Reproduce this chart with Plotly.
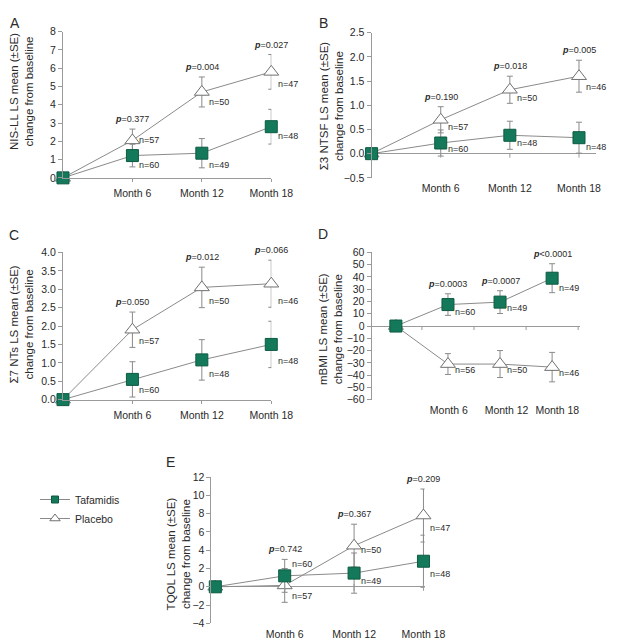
import plotly.graph_objects as go

W, H = 618, 640

months = [0, 6, 12, 18]
month_labels = ["Month 6", "Month 12", "Month 18"]

# A - NIS-LL
nisll_taf = [0, 1.22, 1.35, 2.8]
nisll_taf_se = [0, 0.62, 0.8, 0.95]
nisll_pla = [0, 2.05, 4.7, 5.8]
nisll_pla_se = [0, 0.62, 0.82, 0.95]
nisll_p = ["=0.377", "=0.004", "=0.027"]
nisll_n_taf = [60, 49, 48]
nisll_n_pla = [57, 50, 47]

# B - Sigma3 NTSF
ntsf_taf = [0, 0.22, 0.38, 0.33]
ntsf_taf_se = [0, 0.27, 0.29, 0.32]
ntsf_pla = [0, 0.7, 1.32, 1.6]
ntsf_pla_se = [0, 0.27, 0.28, 0.33]
ntsf_p = ["=0.190", "=0.018", "=0.005"]
ntsf_n_taf = [60, 48, 48]
ntsf_n_pla = [57, 50, 46]

# C - Sigma7 NTs
nts_taf = [0, 0.55, 1.08, 1.5]
nts_taf_se = [0, 0.48, 0.55, 0.63]
nts_pla = [0, 1.9, 3.05, 3.15]
nts_pla_se = [0, 0.48, 0.55, 0.64]
nts_p = ["=0.050", "=0.012", "=0.066"]
nts_n_taf = [60, 48, 48]
nts_n_pla = [57, 50, 46]

# D - mBMI
mbmi_taf = [0, 17.5, 19.5, 39]
mbmi_taf_se = [0, 8.8, 9.3, 11.8]
mbmi_pla = [0, -31, -31, -33.5]
mbmi_pla_se = [0, 8.5, 11, 12]
mbmi_p = ["=0.0003", "=0.0007", "&lt;0.0001"]
mbmi_n_taf = [60, 49, 49]
mbmi_n_pla = [56, 50, 46]

# E - TQOL
tqol_taf = [0, 1.2, 1.5, 2.8]
tqol_taf_se = [0, 1.8, 2.2, 2.85]
tqol_pla = [0, 0.15, 4.5, 7.8]
tqol_pla_se = [0, 1.85, 2.35, 2.9]
tqol_p = ["=0.742", "=0.367", "=0.209"]
tqol_n_taf = [60, 49, 48]
tqol_n_pla = [57, 50, 47]

GREEN = "#14795a"
GREY = "#8a8a8a"
AXIS = "#9a9a9a"
TXT = "#2a2a2a"
FONT = "Liberation Sans, Arial, sans-serif"


def fx(p):
    return p / W


def fy(p):
    return 1 - p / H


panels = [
    dict(letter="A", taf=nisll_taf, taf_se=nisll_taf_se, pla=nisll_pla, pla_se=nisll_pla_se,
         p=nisll_p, n_taf=nisll_n_taf, n_pla=nisll_n_pla,
         title="NIS-LL LS mean (±SE)<br>change from baseline",
         xd=(57, 273), yd=(18, 167), xr=[0, 18], yr=[0, 8], dtick=1, fmt="d",
         floor_axis=True, ticks0=None, label_at=months[1:], letter_xy=(7, 9), title_xy=(14, 79),
         dy_taf=[-9, -12, -9], dy_pla=[0, -10, -12]),
    dict(letter="B", taf=ntsf_taf, taf_se=ntsf_taf_se, pla=ntsf_pla, pla_se=ntsf_pla_se,
         p=ntsf_p, n_taf=ntsf_n_taf, n_pla=ntsf_n_pla,
         title="Σ3 NTSF LS mean (±SE)<br>change from baseline",
         xd=(377, 610), yd=(19, 167), xr=[0, 19.5], yr=[-0.5, 2.5], dtick=0.5, fmt=".1f",
         floor_axis=False, ticks0=[6, 12, 18], label_at=months[1:], letter_xy=(327, 9),
         title_xy=(335, 94), dy_taf=[-6, -8, -9], dy_pla=[-7, -8, -11]),
    dict(letter="C", taf=nts_taf, taf_se=nts_taf_se, pla=nts_pla, pla_se=nts_pla_se,
         p=nts_p, n_taf=nts_n_taf, n_pla=nts_n_pla,
         title="Σ7 NTs LS mean (±SE)<br>change from baseline",
         xd=(57, 273), yd=(243, 393), xr=[0, 18], yr=[0, 4], dtick=0.5, fmt=".1f",
         floor_axis=True, ticks0=None, label_at=months[1:], letter_xy=(6, 225), title_xy=(14, 317),
         dy_taf=[-11, -14, -17], dy_pla=[-11, -14, -17]),
    dict(letter="D", taf=mbmi_taf, taf_se=mbmi_taf_se, pla=mbmi_pla, pla_se=mbmi_pla_se,
         p=mbmi_p, n_taf=mbmi_n_taf, n_pla=mbmi_n_pla,
         title="mBMI LS mean (±SE)<br>change from baseline",
         xd=(377, 593), yd=(243, 393), xr=[-2.8, 21.2], yr=[-60, 60], dtick=10, fmt="d",
         floor_axis=False, ticks0=[3, 9, 15, 21], label_at=[6.1, 12.75, 18.6],
         letter_xy=(327, 224), title_xy=(335, 321),
         dy_taf=[-7, -6, -10], dy_pla=[-6, -6, -6]),
    dict(letter="E", taf=tqol_taf, taf_se=tqol_taf_se, pla=tqol_pla, pla_se=tqol_pla_se,
         p=tqol_p, n_taf=tqol_n_taf, n_pla=tqol_n_pla,
         title="TQOL LS mean (±SE)<br>change from baseline",
         xd=(211, 432), yd=(472, 621), xr=[-0.33, 18.1], yr=[-4, 12], dtick=2, fmt="d",
         floor_axis=False, ticks0=[6, 12, 18], label_at=months[1:], letter_xy=(168, 457),
         title_xy=(177, 550), dy_taf=[12, -8, -13], dy_pla=[-11, -4, -12]),
]

fig = go.Figure()
annotations = []
shapes = []
axes = {}

pla_marker = dict(symbol="triangle-up", color="white", line=dict(color="#707070", width=1))
taf_marker = dict(symbol="square", color=GREEN, line=dict(color="#0c5a40", width=1))

for i, pnl in enumerate(panels, start=1):
    xa = "x" if i == 1 else f"x{i}"
    ya = "y" if i == 1 else f"y{i}"
    xkey = "xaxis" if i == 1 else f"xaxis{i}"
    ykey = "yaxis" if i == 1 else f"yaxis{i}"

    fig.add_trace(go.Scatter(
        x=months, y=pnl["pla"], xaxis=xa, yaxis=ya, name="Placebo",
        mode="lines+markers", cliponaxis=False, showlegend=False,
        line=dict(color=GREY, width=1), marker=dict(size=13, **pla_marker),
        error_y=dict(type="data", array=pnl["pla_se"], color=GREY, thickness=1, width=3),
    ))
    fig.add_trace(go.Scatter(
        x=months, y=pnl["taf"], xaxis=xa, yaxis=ya, name="Tafamidis",
        mode="lines+markers", cliponaxis=False, showlegend=False,
        line=dict(color=GREY, width=1), marker=dict(size=12, **taf_marker),
        error_y=dict(type="data", array=pnl["taf_se"], color=GREY, thickness=1, width=3),
    ))

    axes[xkey] = dict(
        domain=[fx(pnl["xd"][0]), fx(pnl["xd"][1])], range=pnl["xr"], anchor=ya,
        tickvals=pnl["label_at"], ticktext=month_labels, showgrid=False, zeroline=False,
        showline=pnl["floor_axis"], linecolor=AXIS, linewidth=1,
        ticks="outside" if pnl["floor_axis"] else "", ticklen=3, tickcolor=AXIS,
        ticklabelstandoff=3,
        tickfont=dict(size=10.5, color=TXT, family=FONT),
    )
    axes[ykey] = dict(
        domain=[fy(pnl["yd"][1]), fy(pnl["yd"][0])], range=pnl["yr"], anchor=xa,
        dtick=pnl["dtick"], tickformat=pnl["fmt"], showgrid=False,
        zeroline=not pnl["floor_axis"], zerolinecolor=AXIS, zerolinewidth=1,
        showline=True, linecolor=AXIS, linewidth=1, ticks="outside", ticklen=4, tickcolor=AXIS,
        tickfont=dict(size=10.5, color=TXT, family=FONT),
    )

    if pnl["ticks0"]:
        for t in pnl["ticks0"]:
            shapes.append(dict(type="line", xref=xa, yref=ya, ysizemode="pixel", yanchor=0,
                               x0=t, x1=t, y0=3 if pnl["letter"] == "E" else 0, y1=-4,
                               line=dict(color=AXIS, width=1)))

    # p-values above the highest error bar, n labels beside the markers
    for k, m in enumerate(months[1:], start=1):
        top = max(pnl["taf"][k] + pnl["taf_se"][k], pnl["pla"][k] + pnl["pla_se"][k])
        annotations.append(dict(
            x=m, y=top, xref=xa, yref=ya, text="<b><i>p</i></b>" + pnl["p"][k - 1],
            showarrow=False, yanchor="bottom", yshift=3,
            font=dict(size=9, color=TXT, family=FONT)))
        annotations.append(dict(
            x=m, y=pnl["taf"][k], xref=xa, yref=ya, text=f"n={pnl['n_taf'][k - 1]}",
            showarrow=False, xanchor="left", yanchor="middle", xshift=5, yshift=pnl["dy_taf"][k - 1],
            font=dict(size=9, color=TXT, family=FONT)))
        annotations.append(dict(
            x=m, y=pnl["pla"][k], xref=xa, yref=ya, text=f"n={pnl['n_pla'][k - 1]}",
            showarrow=False, xanchor="left", yanchor="middle", xshift=5, yshift=pnl["dy_pla"][k - 1],
            font=dict(size=9, color=TXT, family=FONT)))

    annotations.append(dict(
        x=fx(pnl["letter_xy"][0]), y=fy(pnl["letter_xy"][1]), xref="paper", yref="paper",
        text=pnl["letter"], showarrow=False, xanchor="center", yanchor="middle",
        font=dict(size=14, color=TXT, family=FONT)))
    annotations.append(dict(
        x=fx(pnl["title_xy"][0]), y=fy(pnl["title_xy"][1]), xref="paper", yref="paper",
        text=pnl["title"], textangle=-90, showarrow=False, xanchor="center", yanchor="middle",
        font=dict(size=11.5, color=TXT, family=FONT)))

# legend entries with smaller symbols than the plotted markers
fig.add_trace(go.Scatter(x=[None], y=[None], name="Tafamidis", mode="lines+markers",
                         line=dict(color=GREY, width=1), marker=dict(size=7, **taf_marker)))
fig.add_trace(go.Scatter(x=[None], y=[None], name="Placebo", mode="lines+markers",
                         line=dict(color=GREY, width=1), marker=dict(size=9, **pla_marker)))

fig.update_layout(
    width=W, height=H,
    margin=dict(l=0, r=0, t=0, b=0),
    paper_bgcolor="white", plot_bgcolor="white",
    font=dict(family=FONT, color=TXT),
    annotations=annotations,
    shapes=shapes,
    legend=dict(x=fx(28), y=fy(480), xanchor="left", yanchor="top",
                bgcolor="rgba(0,0,0,0)", tracegroupgap=0, itemwidth=30,
                font=dict(size=10.5, color=TXT, family=FONT)),
    **axes,
)

fig.write_html("out.html")
